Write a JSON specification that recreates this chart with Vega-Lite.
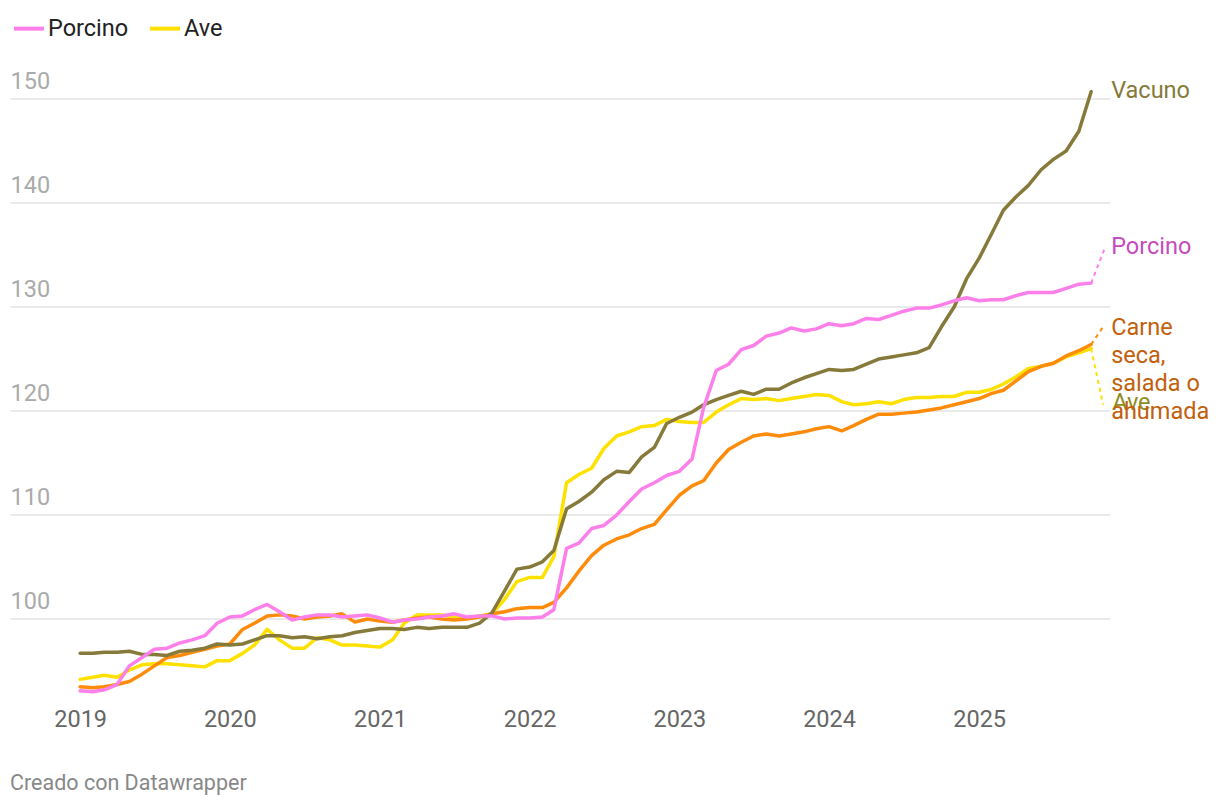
{
  "$schema": "https://vega.github.io/schema/vega-lite/v6.json",
  "width": 1100,
  "height": 644.8,
  "autosize": {"type": "none"},
  "padding": {"left": 10, "top": 56.4, "right": 110, "bottom": 106.8},
  "background": "white",
  "config": {
    "view": {"stroke": null},
    "font": "Roboto",
    "text": {"font": "Roboto"}
  },
  "title": {"text": "Creado con Datawrapper", "orient": "bottom", "anchor": "start", "fontSize": 21.5, "fontWeight": "normal", "color": "#888888", "font": "Roboto", "offset": 42},
  "data": {
    "values": [
      {"d": "2019-01-01", "Vacuno": 96.6, "Porcino": 93.0, "Ave": 94.1, "Carne": 93.4},
      {"d": "2019-02-01", "Vacuno": 96.6, "Porcino": 92.9, "Ave": 94.3, "Carne": 93.3},
      {"d": "2019-03-01", "Vacuno": 96.7, "Porcino": 93.1, "Ave": 94.5, "Carne": 93.4},
      {"d": "2019-04-01", "Vacuno": 96.7, "Porcino": 93.6, "Ave": 94.3, "Carne": 93.6},
      {"d": "2019-05-01", "Vacuno": 96.8, "Porcino": 95.4, "Ave": 95.0, "Carne": 93.9},
      {"d": "2019-06-01", "Vacuno": 96.5, "Porcino": 96.2, "Ave": 95.5, "Carne": 94.6},
      {"d": "2019-07-01", "Vacuno": 96.5, "Porcino": 97.0, "Ave": 95.6, "Carne": 95.4},
      {"d": "2019-08-01", "Vacuno": 96.4, "Porcino": 97.1, "Ave": 95.6, "Carne": 96.2},
      {"d": "2019-09-01", "Vacuno": 96.8, "Porcino": 97.6, "Ave": 95.5, "Carne": 96.4},
      {"d": "2019-10-01", "Vacuno": 96.9, "Porcino": 97.9, "Ave": 95.4, "Carne": 96.7},
      {"d": "2019-11-01", "Vacuno": 97.1, "Porcino": 98.3, "Ave": 95.3, "Carne": 97.0},
      {"d": "2019-12-01", "Vacuno": 97.5, "Porcino": 99.5, "Ave": 95.9, "Carne": 97.3},
      {"d": "2020-01-01", "Vacuno": 97.4, "Porcino": 100.1, "Ave": 95.9, "Carne": 97.5},
      {"d": "2020-02-01", "Vacuno": 97.5, "Porcino": 100.2, "Ave": 96.6, "Carne": 98.9},
      {"d": "2020-03-01", "Vacuno": 97.9, "Porcino": 100.8, "Ave": 97.4, "Carne": 99.5},
      {"d": "2020-04-01", "Vacuno": 98.3, "Porcino": 101.3, "Ave": 98.9, "Carne": 100.2},
      {"d": "2020-05-01", "Vacuno": 98.3, "Porcino": 100.6, "Ave": 97.9, "Carne": 100.3},
      {"d": "2020-06-01", "Vacuno": 98.1, "Porcino": 99.8, "Ave": 97.1, "Carne": 100.2},
      {"d": "2020-07-01", "Vacuno": 98.2, "Porcino": 100.1, "Ave": 97.1, "Carne": 99.9},
      {"d": "2020-08-01", "Vacuno": 98.0, "Porcino": 100.3, "Ave": 98.1, "Carne": 100.1},
      {"d": "2020-09-01", "Vacuno": 98.2, "Porcino": 100.3, "Ave": 97.9, "Carne": 100.2},
      {"d": "2020-10-01", "Vacuno": 98.3, "Porcino": 100.1, "Ave": 97.4, "Carne": 100.4},
      {"d": "2020-11-01", "Vacuno": 98.6, "Porcino": 100.2, "Ave": 97.4, "Carne": 99.6},
      {"d": "2020-12-01", "Vacuno": 98.8, "Porcino": 100.3, "Ave": 97.3, "Carne": 99.9},
      {"d": "2021-01-01", "Vacuno": 99.0, "Porcino": 100.0, "Ave": 97.2, "Carne": 99.7},
      {"d": "2021-02-01", "Vacuno": 99.0, "Porcino": 99.6, "Ave": 97.9, "Carne": 99.6},
      {"d": "2021-03-01", "Vacuno": 98.9, "Porcino": 99.8, "Ave": 99.5, "Carne": 99.8},
      {"d": "2021-04-01", "Vacuno": 99.1, "Porcino": 99.9, "Ave": 100.3, "Carne": 100.0},
      {"d": "2021-05-01", "Vacuno": 99.0, "Porcino": 100.1, "Ave": 100.3, "Carne": 100.1},
      {"d": "2021-06-01", "Vacuno": 99.1, "Porcino": 100.2, "Ave": 100.3, "Carne": 99.9},
      {"d": "2021-07-01", "Vacuno": 99.1, "Porcino": 100.4, "Ave": 100.1, "Carne": 99.8},
      {"d": "2021-08-01", "Vacuno": 99.1, "Porcino": 100.1, "Ave": 100.0, "Carne": 99.9},
      {"d": "2021-09-01", "Vacuno": 99.5, "Porcino": 100.2, "Ave": 100.2, "Carne": 100.1},
      {"d": "2021-10-01", "Vacuno": 100.5, "Porcino": 100.2, "Ave": 100.4, "Carne": 100.4},
      {"d": "2021-11-01", "Vacuno": 102.6, "Porcino": 99.9, "Ave": 101.8, "Carne": 100.6},
      {"d": "2021-12-01", "Vacuno": 104.7, "Porcino": 100.0, "Ave": 103.5, "Carne": 100.9},
      {"d": "2022-01-01", "Vacuno": 104.9, "Porcino": 100.0, "Ave": 103.9, "Carne": 101.0},
      {"d": "2022-02-01", "Vacuno": 105.4, "Porcino": 100.1, "Ave": 103.9, "Carne": 101.0},
      {"d": "2022-03-01", "Vacuno": 106.5, "Porcino": 100.8, "Ave": 105.9, "Carne": 101.5},
      {"d": "2022-04-01", "Vacuno": 110.5, "Porcino": 106.7, "Ave": 113.0, "Carne": 102.9},
      {"d": "2022-05-01", "Vacuno": 111.2, "Porcino": 107.2, "Ave": 113.8, "Carne": 104.5},
      {"d": "2022-06-01", "Vacuno": 112.1, "Porcino": 108.6, "Ave": 114.4, "Carne": 106.0},
      {"d": "2022-07-01", "Vacuno": 113.3, "Porcino": 108.9, "Ave": 116.3, "Carne": 107.0},
      {"d": "2022-08-01", "Vacuno": 114.1, "Porcino": 109.9, "Ave": 117.5, "Carne": 107.6},
      {"d": "2022-09-01", "Vacuno": 114.0, "Porcino": 111.2, "Ave": 117.9, "Carne": 108.0},
      {"d": "2022-10-01", "Vacuno": 115.5, "Porcino": 112.4, "Ave": 118.4, "Carne": 108.6},
      {"d": "2022-11-01", "Vacuno": 116.4, "Porcino": 113.0, "Ave": 118.5, "Carne": 109.0},
      {"d": "2022-12-01", "Vacuno": 118.7, "Porcino": 113.7, "Ave": 119.1, "Carne": 110.4},
      {"d": "2023-01-01", "Vacuno": 119.3, "Porcino": 114.1, "Ave": 118.9, "Carne": 111.8},
      {"d": "2023-02-01", "Vacuno": 119.8, "Porcino": 115.3, "Ave": 118.8, "Carne": 112.7},
      {"d": "2023-03-01", "Vacuno": 120.5, "Porcino": 120.2, "Ave": 118.8, "Carne": 113.2},
      {"d": "2023-04-01", "Vacuno": 121.0, "Porcino": 123.8, "Ave": 119.8, "Carne": 114.9},
      {"d": "2023-05-01", "Vacuno": 121.4, "Porcino": 124.4, "Ave": 120.5, "Carne": 116.2},
      {"d": "2023-06-01", "Vacuno": 121.8, "Porcino": 125.8, "Ave": 121.1, "Carne": 116.9},
      {"d": "2023-07-01", "Vacuno": 121.5, "Porcino": 126.2, "Ave": 121.0, "Carne": 117.5},
      {"d": "2023-08-01", "Vacuno": 122.0, "Porcino": 127.1, "Ave": 121.1, "Carne": 117.7},
      {"d": "2023-09-01", "Vacuno": 122.0, "Porcino": 127.4, "Ave": 120.9, "Carne": 117.5},
      {"d": "2023-10-01", "Vacuno": 122.6, "Porcino": 127.9, "Ave": 121.1, "Carne": 117.7},
      {"d": "2023-11-01", "Vacuno": 123.1, "Porcino": 127.6, "Ave": 121.3, "Carne": 117.9},
      {"d": "2023-12-01", "Vacuno": 123.5, "Porcino": 127.8, "Ave": 121.5, "Carne": 118.2},
      {"d": "2024-01-01", "Vacuno": 123.9, "Porcino": 128.3, "Ave": 121.4, "Carne": 118.4},
      {"d": "2024-02-01", "Vacuno": 123.8, "Porcino": 128.1, "Ave": 120.8, "Carne": 118.0},
      {"d": "2024-03-01", "Vacuno": 123.9, "Porcino": 128.3, "Ave": 120.5, "Carne": 118.5},
      {"d": "2024-04-01", "Vacuno": 124.4, "Porcino": 128.8, "Ave": 120.6, "Carne": 119.1},
      {"d": "2024-05-01", "Vacuno": 124.9, "Porcino": 128.7, "Ave": 120.8, "Carne": 119.6},
      {"d": "2024-06-01", "Vacuno": 125.1, "Porcino": 129.1, "Ave": 120.6, "Carne": 119.6},
      {"d": "2024-07-01", "Vacuno": 125.3, "Porcino": 129.5, "Ave": 121.0, "Carne": 119.7},
      {"d": "2024-08-01", "Vacuno": 125.5, "Porcino": 129.8, "Ave": 121.2, "Carne": 119.8},
      {"d": "2024-09-01", "Vacuno": 126.0, "Porcino": 129.8, "Ave": 121.2, "Carne": 120.0},
      {"d": "2024-10-01", "Vacuno": 128.0, "Porcino": 130.1, "Ave": 121.3, "Carne": 120.2},
      {"d": "2024-11-01", "Vacuno": 129.9, "Porcino": 130.5, "Ave": 121.3, "Carne": 120.5},
      {"d": "2024-12-01", "Vacuno": 132.6, "Porcino": 130.8, "Ave": 121.7, "Carne": 120.8},
      {"d": "2025-01-01", "Vacuno": 134.6, "Porcino": 130.5, "Ave": 121.7, "Carne": 121.1},
      {"d": "2025-02-01", "Vacuno": 137.0, "Porcino": 130.6, "Ave": 122.0, "Carne": 121.6},
      {"d": "2025-03-01", "Vacuno": 139.2, "Porcino": 130.6, "Ave": 122.5, "Carne": 121.9},
      {"d": "2025-04-01", "Vacuno": 140.5, "Porcino": 131.0, "Ave": 123.2, "Carne": 122.8},
      {"d": "2025-05-01", "Vacuno": 141.6, "Porcino": 131.3, "Ave": 124.0, "Carne": 123.7},
      {"d": "2025-06-01", "Vacuno": 143.1, "Porcino": 131.3, "Ave": 124.2, "Carne": 124.2},
      {"d": "2025-07-01", "Vacuno": 144.1, "Porcino": 131.3, "Ave": 124.5, "Carne": 124.5},
      {"d": "2025-08-01", "Vacuno": 144.9, "Porcino": 131.7, "Ave": 125.1, "Carne": 125.2},
      {"d": "2025-09-01", "Vacuno": 146.8, "Porcino": 132.1, "Ave": 125.5, "Carne": 125.7},
      {"d": "2025-10-01", "Vacuno": 150.6, "Porcino": 132.2, "Ave": 125.9, "Carne": 126.3}
    ]
  },
  "layer": [
    {
      "transform": [{"fold": ["Ave", "Carne", "Vacuno", "Porcino"], "as": ["serie", "valor"]}],
      "mark": {"type": "line", "strokeWidth": 3.5, "strokeJoin": "round", "strokeCap": "round"},
      "encoding": {
        "x": {
          "field": "d", "type": "temporal",
          "scale": {"type": "utc", "domain": [{"year": 2018, "month": 7, "date": 14, "utc": true}, {"year": 2025, "month": 11, "date": 16, "utc": true}]},
          "axis": {
            "title": null,
            "values": [{"year": 2019, "utc": true}, {"year": 2020, "utc": true}, {"year": 2021, "utc": true}, {"year": 2022, "utc": true}, {"year": 2023, "utc": true}, {"year": 2024, "utc": true}, {"year": 2025, "utc": true}],
            "format": "%Y",
            "domain": false, "ticks": false, "tickSize": 0, "grid": false,
            "labelFontSize": 23.5, "labelColor": "#666666", "labelPadding": 6, "labelFont": "Roboto"
          }
        },
        "y": {
          "field": "valor", "type": "quantitative",
          "scale": {"domain": [92, 154], "nice": false, "zero": false},
          "axis": {
            "title": null,
            "values": [100, 110, 120, 130, 140, 150],
            "grid": true, "gridColor": "#e3e3e3", "gridWidth": 1.5,
            "domain": false, "ticks": false, "tickSize": 0,
            "labelAlign": "left", "labelBaseline": "alphabetic", "labelPadding": 0, "labelOffset": -10,
            "labelFontSize": 23.5, "labelColor": "#aaaaaa", "labelFont": "Roboto"
          }
        },
        "color": {
          "field": "serie", "type": "nominal",
          "scale": {"domain": ["Vacuno", "Porcino", "Ave", "Carne"], "range": ["#867a3b", "#fd7fe9", "#ffe100", "#ff8b0a"]},
          "legend": {
            "title": null, "values": ["Porcino", "Ave"],
            "orient": "none", "legendX": 2, "legendY": -45, "direction": "horizontal",
            "symbolType": "stroke", "symbolSize": 900, "symbolStrokeWidth": 4,
            "labelFontSize": 23.5, "labelColor": "#222222", "labelOffset": 2, "columnPadding": 13, "labelFont": "Roboto"
          }
        }
      }
    },
    {
      "data": {"values": [{"t": "Porcino"}]},
      "mark": {"type": "rule", "stroke": "#fd7fe9", "strokeWidth": 2, "strokeDash": [4, 4], "x2Offset": 13},
      "encoding": {
        "x": {"datum": {"year": 2025, "month": 10, "date": 1, "utc": true}, "type": "temporal"},
        "x2": {"datum": {"year": 2025, "month": 10, "date": 1, "utc": true}},
        "y": {"datum": 132.2, "type": "quantitative"},
        "y2": {"datum": 135.4}
      }
    },
    {
      "data": {"values": [{"t": "Carne"}]},
      "mark": {"type": "rule", "stroke": "#ff8b0a", "strokeWidth": 2, "strokeDash": [4, 4], "x2Offset": 12},
      "encoding": {
        "x": {"datum": {"year": 2025, "month": 10, "date": 1, "utc": true}, "type": "temporal"},
        "x2": {"datum": {"year": 2025, "month": 10, "date": 1, "utc": true}},
        "y": {"datum": 126.3, "type": "quantitative"},
        "y2": {"datum": 128.0}
      }
    },
    {
      "data": {"values": [{"t": "Ave"}]},
      "mark": {"type": "rule", "stroke": "#ffe100", "strokeWidth": 2, "strokeDash": [4, 4], "x2Offset": 12},
      "encoding": {
        "x": {"datum": {"year": 2025, "month": 10, "date": 1, "utc": true}, "type": "temporal"},
        "x2": {"datum": {"year": 2025, "month": 10, "date": 1, "utc": true}},
        "y": {"datum": 125.9, "type": "quantitative"},
        "y2": {"datum": 120.5}
      }
    },
    {
      "data": {"values": [{"t": "Vacuno"}]},
      "mark": {"type": "text", "align": "left", "baseline": "alphabetic", "dx": 20, "fontSize": 23.5, "color": "#867a3b", "font": "Roboto"},
      "encoding": {
        "x": {"datum": {"year": 2025, "month": 10, "date": 1, "utc": true}, "type": "temporal"},
        "y": {"datum": 150.0, "type": "quantitative"},
        "text": {"field": "t"}
      }
    },
    {
      "data": {"values": [{"t": "Porcino"}]},
      "mark": {"type": "text", "align": "left", "baseline": "alphabetic", "dx": 20, "fontSize": 23.5, "color": "#c64bbc", "font": "Roboto"},
      "encoding": {
        "x": {"datum": {"year": 2025, "month": 10, "date": 1, "utc": true}, "type": "temporal"},
        "y": {"datum": 135.0, "type": "quantitative"},
        "text": {"field": "t"}
      }
    },
    {
      "data": {"values": [{"t": "Ave"}]},
      "mark": {"type": "text", "align": "left", "baseline": "alphabetic", "dx": 21, "fontSize": 23.5, "color": "#8d8d1c", "font": "Roboto"},
      "encoding": {
        "x": {"datum": {"year": 2025, "month": 10, "date": 1, "utc": true}, "type": "temporal"},
        "y": {"datum": 120.0, "type": "quantitative"},
        "text": {"field": "t"}
      }
    },
    {
      "data": {"values": [{"t": "Carne\nseca,\nsalada o\nahumada"}]},
      "mark": {"type": "text", "align": "left", "baseline": "top", "dx": 20, "fontSize": 23.5, "lineHeight": 28, "lineBreak": "\n", "color": "#c2600c", "font": "Roboto"},
      "encoding": {
        "x": {"datum": {"year": 2025, "month": 10, "date": 1, "utc": true}, "type": "temporal"},
        "y": {"datum": 129.0, "type": "quantitative"},
        "text": {"field": "t"}
      }
    }
  ]
}
